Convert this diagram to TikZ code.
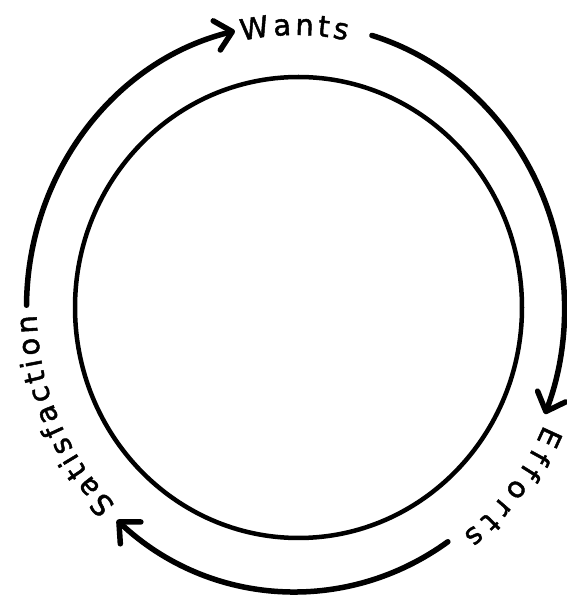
\documentclass[tikz,border=0pt]{standalone}
\usepackage{fontspec}
\newfontfamily\hand[FakeBold=1.6]{DejaVu Sans}
\usetikzlibrary{arrows.meta,decorations.text,calc}
\begin{document}
\begin{tikzpicture}[
  outerarc/.style={line width=5.5pt, line cap=round},
  tipped/.style={-{Straight Barb[length=16pt,width=30pt,round]}},
  innerring/.style={line width=4.5pt},
  lbl/.style={decorate, decoration={text along path, text align={fit to path},
     text={|\hand\fontsize{29}{32}\selectfont|#1}}}
]
\useasboundingbox (0pt,0pt) rectangle (566pt,598pt);
\coordinate (oc) at (295.5pt,290.3pt);
\coordinate (ic) at (298.5pt,290.5pt);
% inner circle
\draw[innerring] (ic) ellipse [x radius=223.5pt, y radius=230.5pt];
% arc start points
\coordinate (sat) at ($(oc)+(179.5:269pt and 284pt)$);
\coordinate (wan) at ($(oc)+(73.5:269pt and 284pt)$);
\coordinate (eff) at ($(oc)+(-55.5:269pt and 284pt)$);
% arcs
\draw[outerarc,tipped] (sat) arc[start angle=179.5, end angle=103, x radius=269pt, y radius=284pt];
\draw[outerarc,tipped] (wan) arc[start angle=73.5, end angle=-22, x radius=269pt, y radius=284pt];
\draw[outerarc,tipped] (eff) arc[start angle=-55.5, end angle=-131.6, x radius=269pt, y radius=284pt];
% labels
\path[lbl=Wants] (oc) ++(102:258pt and 272.7pt) arc[start angle=102, end angle=78.5, x radius=258pt, y radius=272.7pt];
\path[lbl=Efforts] (oc) ++(-24:272pt and 288pt) arc[start angle=-24, end angle=-52, x radius=272pt, y radius=288pt];
\path[lbl=Satisfaction] (oc) ++(226:259pt and 274pt) arc[start angle=226, end angle=181.5, x radius=259pt, y radius=274pt];
\end{tikzpicture}
\end{document}
